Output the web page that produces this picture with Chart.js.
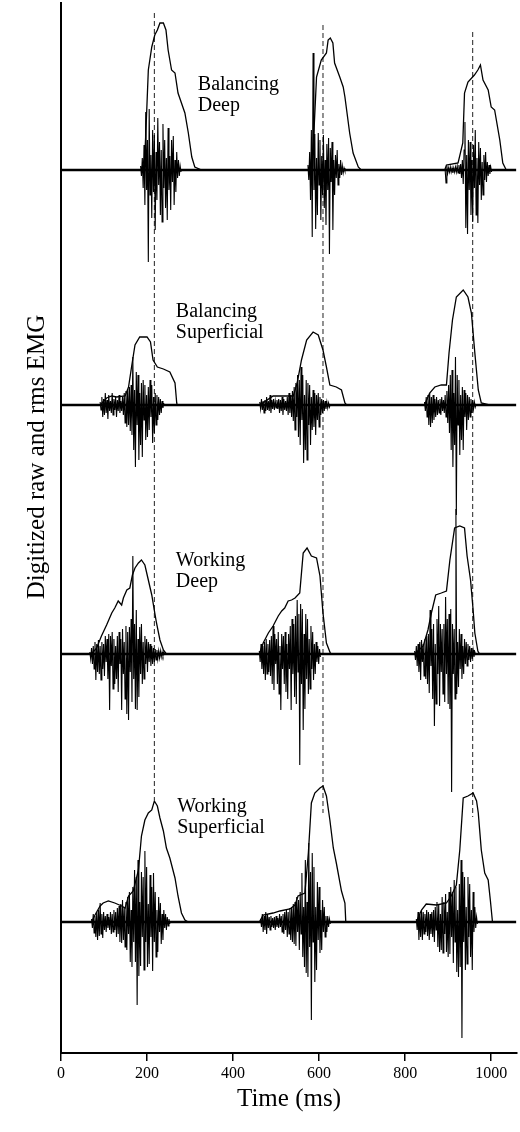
<!DOCTYPE html>
<html>
<head>
<meta charset="utf-8">
<title>Digitized raw and rms EMG</title>
<script src="https://cdn.jsdelivr.net/npm/chart.js@4"></script>
<style>
  html, body { margin: 0; padding: 0; background: #fff; }
  #emg { display: block; }
</style>
</head>
<body>
<canvas id="emg" width="520" height="1132"></canvas>
<script>
/* ---- data ---- */

// x axis (ms)
const timeTicks = [0, 200, 400, 600, 800, 1000];
const timeMax = 1060;

// stacked traces, top to bottom (y units are arbitrary, baseline offset per trace)
const traceLabels = [
  ["Balancing", "Deep"],
  ["Balancing", "Superficial"],
  ["Working", "Deep"],
  ["Working", "Superficial"]
];
const traceOffsets = [883, 648, 399, 131];
const baselineSpan = [0, 1058];

// vertical dashed reference lines
const dashTimes = [217, 609, 957];
const dashTop = [1040, 1028, 1021];
const dashBottom = [253, 240, 236];

// rms envelopes: [time ms, amplitude]
const rmsBalancingDeep = [
  [187, 0], [195, 13], [203, 100], [211, 123], [218, 135], [224, 140], [230, 147], [238, 147],
  [244, 140], [249, 120], [257, 100], [265, 97], [272, 77], [288, 57], [296, 37], [304, 13],
  [311, 3], [327, 0],
  [578, 0], [586, 20], [594, 93], [605, 110], [617, 117], [621, 130], [626, 132], [632, 127],
  [636, 107], [648, 93], [656, 83], [660, 73], [671, 37], [679, 17], [691, 3], [698, 0],
  [892, 0], [896, 5], [923, 7], [934, 27], [938, 77], [946, 88], [961, 95], [969, 100],
  [975, 105], [981, 90], [993, 80], [1000, 63], [1008, 60], [1020, 30], [1027, 7], [1035, 0]
];
const rmsBalancingSuperficial = [
  [91, 0], [106, 7], [118, 9], [129, 8], [149, 9], [157, 18], [164, 38], [172, 60],
  [183, 68], [200, 68], [208, 63], [214, 45], [224, 38], [238, 36], [253, 33], [265, 22],
  [269, 2], [270, 0],
  [462, 0], [493, 9], [540, 9], [549, 22], [559, 45], [571, 65], [586, 73], [598, 70],
  [609, 55], [617, 38], [625, 20], [640, 18], [652, 15], [660, 2], [664, 0],
  [845, 0], [857, 12], [869, 18], [884, 20], [896, 20], [902, 52], [910, 85], [919, 108],
  [935, 115], [946, 108], [954, 92], [962, 52], [970, 15], [977, 2], [996, 0]
];
const rmsWorkingDeep = [
  [71, 0], [83, 6], [94, 18], [106, 29], [118, 41], [125, 46], [133, 53], [141, 49],
  [145, 56], [153, 64], [160, 66], [166, 79], [172, 86], [180, 91], [187, 94], [195, 89],
  [203, 74], [211, 59], [218, 41], [222, 31], [230, 14], [238, 4], [245, 0],
  [461, 0], [470, 11], [482, 21], [493, 28], [505, 38], [513, 43], [520, 46], [528, 53],
  [536, 54], [544, 56], [555, 61], [563, 101], [572, 106], [582, 98], [594, 96], [602, 78],
  [609, 41], [617, 11], [626, 1], [629, 0],
  [822, 0], [842, 8], [853, 24], [861, 41], [871, 59], [884, 61], [896, 63], [904, 94],
  [915, 126], [927, 128], [938, 126], [944, 98], [952, 74], [958, 44], [962, 21], [969, 3],
  [973, 0]
];
const rmsWorkingSuperficial = [
  [71, 0], [79, 7], [91, 16], [98, 19], [110, 21], [125, 19], [141, 16], [149, 14],
  [157, 26], [168, 31], [180, 52], [187, 86], [195, 102], [203, 109], [211, 112], [217, 121],
  [224, 116], [230, 104], [238, 91], [245, 74], [253, 64], [265, 44], [272, 26], [280, 9],
  [288, 2], [296, 0],
  [461, 0], [470, 7], [493, 9], [509, 11], [532, 13], [544, 17], [551, 26], [567, 29],
  [575, 69], [582, 119], [590, 129], [602, 134], [609, 136], [617, 126], [625, 102], [633, 74],
  [640, 59], [652, 31], [660, 19], [662, 0],
  [826, 0], [838, 12], [849, 18], [873, 17], [896, 19], [907, 26], [919, 37], [927, 72],
  [935, 124], [946, 126], [958, 129], [966, 121], [970, 109], [977, 72], [985, 49], [993, 42],
  [998, 22], [1003, 0]
];

// raw EMG bursts, sampled every 2 ms from each start time
const rawStep = 2;
const rawStartsBalancingDeep = [185, 574, 893];
const rawBalancingDeep = [
  [4, -6, 12, -18, 25, -35, 58, -20, 30, -92, 61, -25, 15, -48, 40, -22, 35, -60, 18, -30,
   52, -15, 28, -45, 20, -52, 46, -18, 30, -38, 12, -50, 42, -20, 14, -40, 30, -12, 34, -35,
   10, -22, 18, -8, 10, -6, 4, -2],
  [5, -10, 18, -30, 40, -67, 117, -20, 36, -59, 12, -45, 37, -15, 30, -50, 14, -25, 35, -38,
   10, -55, 26, -20, 32, -84, 22, -12, 28, -60, 10, -25, 15, -8, 20, -15, 6, -8, 10, -5,
   4, -3, 2, -1],
  [0, -13, 4, -3, 2, -2, 3, -2, 2, -3, 2, -2, 3, -2, 4, -3, 5, -4, 6, -8,
   10, -14, 20, 48, -58, 15, -64, 30, -20, 28, -45, 10, -52, 25, -18, 40, -45, 12, -53, 28,
   -15, 22, -30, 8, -25, 15, -10, 18, -12, 8, -6, 5, -4, 3, -2]
];
const rawStartsBalancingSuperficial = [91, 462, 845];
const rawBalancingSuperficial = [
  [3, -5, 8, -12, 6, -10, 12, -8, 5, -14, 10, -6, 4, -8, 12, -10, 6, -5, 8, -12,
   5, -6, 10, -8, 4, -6, 8, -10, 12, -18, 14, -22, 16, -20, 18, -26, 20, -30, 48, -45,
   15, -62, 33, -20, 30, -55, 12, -40, 22, -52, 25, -15, 20, -35, 10, -32, 18, -25, 25, -12,
   20, -38, 8, -28, 12, -20, 10, -15, 8, -10, 6, -8, 4, -3, 2],
  [3, -4, 6, -5, 4, -8, 5, -6, 8, -5, 4, -6, 10, -8, 5, -4, 6, -5, 4, -3,
   5, -4, 6, -8, 5, -6, 8, -10, 6, -5, 4, -6, 8, -10, 12, -8, 10, -12, 14, -16,
   18, -25, 22, -12, 30, -32, 25, -40, 38, -15, 30, -58, 10, -45, 25, -55, 22, -20, 20, -40,
   8, -25, 15, -22, 12, -30, 10, -15, 12, -22, 8, -10, 6, -8, 5, -6, 4, -4, 3, -3, 2, -2, 1],
  [3, -6, 8, -12, 10, -20, 12, -22, 8, -18, 10, -15, 6, -12, 8, -10, 5, -8, 6, -10,
   8, -6, 5, -8, 10, -12, 14, -18, 20, -28, 30, -45, 35, -62, 12, -40, 48, -110, 30, -20,
   25, -50, 10, -35, 18, -45, 15, -12, 12, -25, 10, -15, 8, -12, 6, -8, 5, -4, 3, -2, 1]
];
const rawStartsWorkingDeep = [67, 461, 822];
const rawWorkingDeep = [
  [2, -5, 6, -10, 8, -15, 12, -26, 10, -18, 14, -20, 8, -26, 12, -15, 10, -22, 18, -8,
   15, -25, 20, -56, 18, -12, 22, -35, 15, -30, 8, -25, 18, -38, 22, -10, 15, -56, 25, -20,
   12, -45, 28, -60, 22, -66, 27, -18, 35, -48, 98, -25, 30, -55, 44, -56, 15, -43, 27, -20,
   30, -30, 12, -25, 18, -10, 15, -18, 12, -8, 10, -12, 8, -10, 6, -8, 5, -6, 4, -5,
   3, -4, 3, -3, 2, -2, 2, -1],
  [3, -8, 10, -15, 8, -20, 12, -26, 15, -20, 10, -18, 14, -22, 18, -30, 28, -36, 20, -10,
   15, -30, 22, -40, 8, -56, 20, -15, 18, -30, 22, -38, 10, -45, 20, -15, 28, -56, 35, -20,
   30, -43, 38, -50, 54, -18, 40, -111, 50, -30, 45, -76, 20, -55, 40, -25, 35, -40, 15, -35,
   28, -15, 22, -26, 10, -20, 12, -8, 8, -10, 5, -3],
  [3, -6, 8, -12, 10, -18, 12, -26, 14, -8, 10, -22, 15, -25, 18, -30, 20, -39, 44, -12,
   25, -45, 30, -72, 10, -50, 35, -20, 48, -52, 30, -18, 25, -40, 30, -48, 57, -20, 35, -50,
   40, -55, 45, -138, 30, -20, 25, -45, 145, -40, 12, -33, 25, -15, 20, -25, 8, -20, 15, -10,
   12, -12, 10, -6, 8, -8, 6, -5, 4, -3, 2, -1]
];
const rawStartsWorkingSuperficial = [71, 464, 826];
const rawWorkingSuperficial = [
  [3, -6, 8, -11, 6, -15, 10, -18, 12, -14, 19, -12, 8, -16, 10, -8, 6, -10, 8, -6,
   5, -8, 10, -12, 8, -10, 12, -8, 10, -15, 14, -12, 16, -20, 18, -21, 22, -18, 15, -25,
   20, -28, 25, -12, 30, -40, 12, -45, 35, -20, 52, -40, 45, -83, 62, -54, 20, -44, 50, -15,
   45, -48, 71, -20, 55, -45, 18, -42, 47, -15, 35, -49, 49, -20, 30, -35, 12, -30, 25, -10,
   19, -22, 8, -18, 12, -6, 8, -8, 5, -4, 3, -2],
  [3, -5, 8, -10, 6, -8, 10, -12, 8, -6, 5, -8, 6, -5, 4, -6, 5, -8, 6, -5,
   4, -6, 8, -5, 6, -10, 8, -12, 10, -8, 12, -15, 10, -12, 14, -18, 15, -20, 18, -22,
   20, -24, 25, -10, 22, -28, 30, -12, 49, -35, 15, -45, 62, -51, 20, -55, 79, -25, 50, -98,
   69, -20, 55, -60, 15, -48, 40, -18, 35, -31, 12, -28, 22, -10, 15, -15, 6, -10, 6, -5, 3, -2],
  [3, -8, 10, -18, 8, -15, 12, -18, 10, -12, 8, -10, 12, -14, 10, -18, 8, -12, 10, -15,
   12, -20, 15, -8, 20, -25, 18, -30, 8, -28, 25, -31, 20, -12, 28, -30, 10, -35, 30, -32,
   35, -15, 30, -41, 42, -20, 35, -50, 12, -55, 38, -45, 62, -116, 50, -20, 45, -48, 15, -42,
   45, -15, 38, -35, 12, -48, 30, -10, 15, -6, 5, -2]
];

/* ---- build datasets ---- */

const rmsSeries = [rmsBalancingDeep, rmsBalancingSuperficial, rmsWorkingDeep, rmsWorkingSuperficial];
const rawStarts = [rawStartsBalancingDeep, rawStartsBalancingSuperficial, rawStartsWorkingDeep, rawStartsWorkingSuperficial];
const rawSeries = [rawBalancingDeep, rawBalancingSuperficial, rawWorkingDeep, rawWorkingSuperficial];

function rawPoints(starts, bursts, offset) {
  const pts = [];
  bursts.forEach((vals, b) => {
    vals.forEach((v, i) => pts.push({ x: starts[b] + i * rawStep, y: offset + v }));
    // break the line between bursts, the baseline covers the gap
    pts.push({ x: starts[b] + vals.length * rawStep, y: NaN });
  });
  return pts;
}

const datasets = [];

traceOffsets.forEach((off, k) => {
  datasets.push({
    label: traceLabels[k].join(" ") + " rms",
    data: rmsSeries[k].map(p => ({ x: p[0], y: off + p[1] })),
    borderColor: "#000",
    borderWidth: 1.3
  });
  datasets.push({
    label: traceLabels[k].join(" ") + " raw",
    data: rawPoints(rawStarts[k], rawSeries[k], off),
    borderColor: "#000",
    borderWidth: 1.1,
    spanGaps: false
  });
  datasets.push({
    label: traceLabels[k].join(" ") + " baseline",
    data: baselineSpan.map(t => ({ x: t, y: off })),
    borderColor: "#000",
    borderWidth: 2.4
  });
});

dashTimes.forEach((t, i) => {
  datasets.push({
    label: "dash " + i,
    data: [{ x: t, y: dashTop[i] }, { x: t, y: dashBottom[i] }],
    borderColor: "#222",
    borderWidth: 1,
    borderDash: [5, 3]
  });
});

/* ---- text drawn on top: y title and trace names ---- */

const serif = "'Liberation Serif', 'Times New Roman', serif";

const textPlugin = {
  id: "emgText",
  afterDraw(chart) {
    const { ctx, scales: { x, y } } = chart;
    ctx.save();
    ctx.fillStyle = "#000";

    // rotated y title
    ctx.font = "25px " + serif;
    ctx.textAlign = "center";
    ctx.textBaseline = "middle";
    ctx.translate(37, 457);
    ctx.rotate(-Math.PI / 2);
    ctx.fillText("Digitized raw and rms EMG", 0, 0);
    ctx.setTransform(1, 0, 0, 1, 0, 0);

    // trace names (time, height above baseline)
    const spots = [[318, 80], [267, 88], [267, 88], [270, 110]];
    ctx.font = "20px " + serif;
    ctx.textAlign = "left";
    ctx.textBaseline = "alphabetic";
    traceLabels.forEach((lines, k) => {
      const px = x.getPixelForValue(spots[k][0]);
      const py = y.getPixelForValue(traceOffsets[k] + spots[k][1]);
      lines.forEach((s, j) => ctx.fillText(s, px, py + j * 21));
    });
    ctx.restore();
  }
};

Chart.defaults.font.family = serif;
Chart.defaults.color = "#000";

new Chart(document.getElementById("emg"), {
  type: "line",
  data: { datasets },
  options: {
    responsive: false,
    animation: false,
    devicePixelRatio: 1,
    parsing: false,
    normalized: true,
    layout: { padding: { top: 3, right: 3, left: 0, bottom: 0 } },
    elements: {
      point: { radius: 0, hoverRadius: 0 },
      line: { tension: 0, fill: false, borderCapStyle: "butt" }
    },
    plugins: {
      legend: { display: false },
      tooltip: { enabled: false }
    },
    scales: {
      x: {
        type: "linear",
        min: 0,
        max: timeMax,
        afterFit(scale) { scale.height = 79; },
        afterBuildTicks(scale) { scale.ticks = timeTicks.map(v => ({ value: v })); },
        grid: {
          drawOnChartArea: false,
          drawTicks: true,
          tickLength: 8,
          color: "#000",
          lineWidth: 1.5
        },
        border: { display: true, color: "#000", width: 2 },
        ticks: {
          padding: 3,
          maxRotation: 0,
          font: { size: 16 },
          color: "#000",
          callback: v => String(v)
        },
        title: {
          display: true,
          text: "Time (ms)",
          font: { size: 25 },
          color: "#000",
          padding: { top: 0, bottom: 18 }
        }
      },
      y: {
        type: "linear",
        min: 0,
        max: 1050,
        afterFit(scale) { scale.width = 61; },
        grid: { display: false },
        border: { display: true, color: "#000", width: 2 },
        ticks: { display: false }
      }
    }
  },
  plugins: [textPlugin]
});
</script>
</body>
</html>
